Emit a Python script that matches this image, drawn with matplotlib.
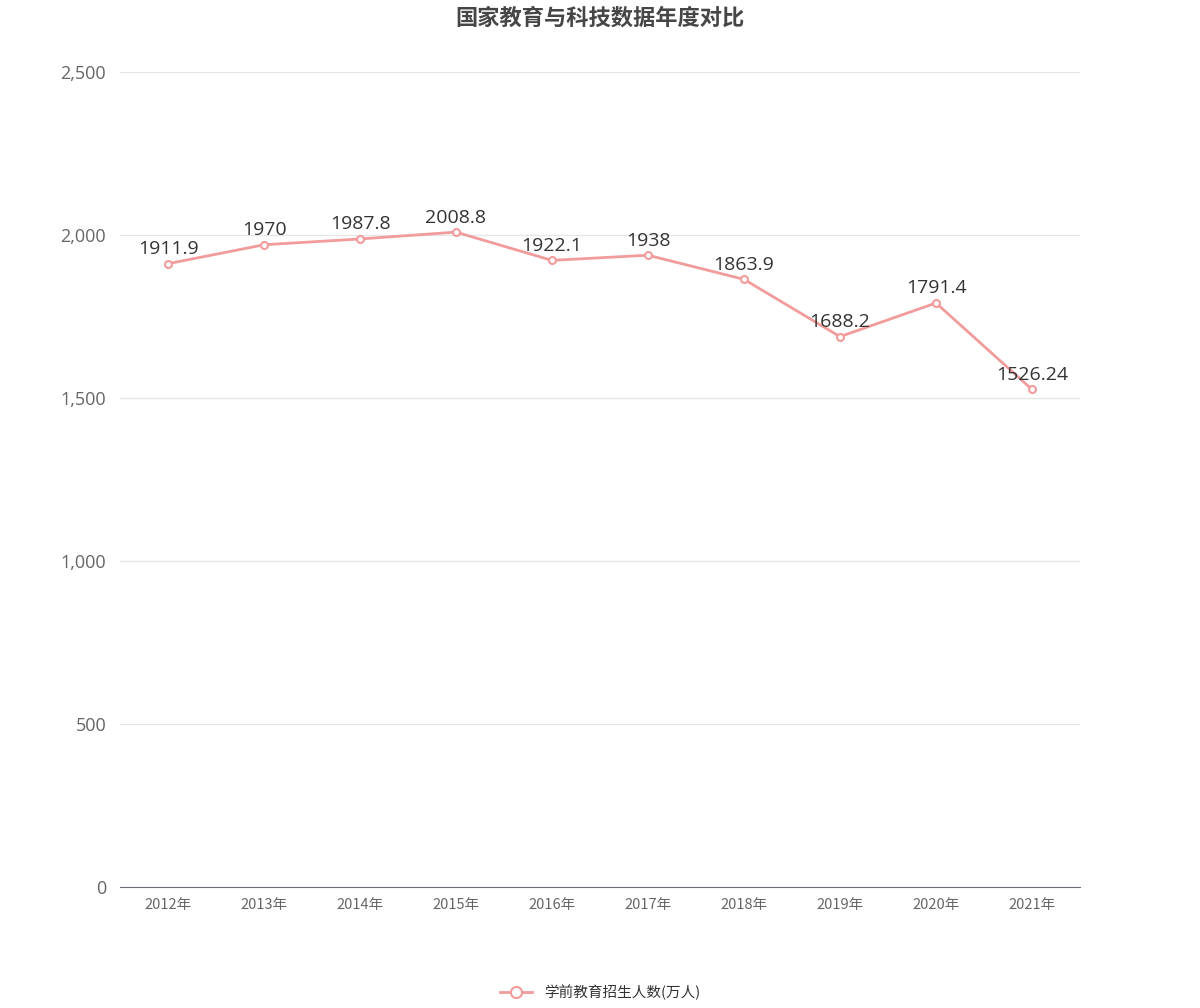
import matplotlib
matplotlib.use("Agg")
import matplotlib.pyplot as plt
from matplotlib.ticker import FuncFormatter

plt.rcParams["font.family"] = ["Noto Sans CJK SC", "DejaVu Sans"]

years = ["2012年", "2013年", "2014年", "2015年", "2016年",
         "2017年", "2018年", "2019年", "2020年", "2021年"]
enrolment = [1911.9, 1970, 1987.8, 2008.8, 1922.1, 1938, 1863.9, 1688.2, 1791.4, 1526.24]
value_labels = ["1911.9", "1970", "1987.8", "2008.8", "1922.1",
                "1938", "1863.9", "1688.2", "1791.4", "1526.24"]
series_name = "学前教育招生人数(万人)"
title = "国家教育与科技数据年度对比"

line_color = "#f29b9b"

fig = plt.figure(figsize=(12, 10.08), dpi=100)
ax = fig.add_axes([0.1, 0.12, 0.8, 0.8086])

x = list(range(len(years)))
ax.plot(x, enrolment, color=line_color, linewidth=2, marker="o", markersize=5,
        markerfacecolor="white", markeredgecolor=line_color, markeredgewidth=1.5,
        label=series_name, zorder=3)

for xi, yi, lab in zip(x, enrolment, value_labels):
    ax.annotate(lab, (xi, yi), xytext=(0, 4), textcoords="offset points",
                ha="center", va="bottom", fontsize=14, color="#333333",
                family="Open Sans")

ax.set_xlim(-0.5, len(years) - 0.5)
ax.set_ylim(0, 2500)
ax.set_yticks([0, 500, 1000, 1500, 2000, 2500])
ax.yaxis.set_major_formatter(FuncFormatter(lambda v, p: f"{int(v):,}"))
ax.set_xticks(x)
ax.set_xticklabels(years)

ax.grid(axis="y", color="#e6e6e6", linewidth=1)
ax.set_axisbelow(True)
for side in ["top", "right", "left"]:
    ax.spines[side].set_visible(False)
ax.spines["bottom"].set_color("#6e7079")
ax.tick_params(axis="y", length=0, labelsize=13, labelcolor="#666666", pad=10)
ax.tick_params(axis="x", length=0, labelsize=10.5, labelcolor="#666666", pad=8)
for t in ax.get_yticklabels():
    t.set_family("Open Sans")

fig.text(0.5, 0.993, title, ha="center", va="top", fontsize=16,
         fontweight="bold", color="#464646")

fig.legend(loc="lower center", bbox_to_anchor=(0.5, -0.005), frameon=False,
           fontsize=10.5, labelcolor="#333333", handlelength=2.2,
           markerscale=1.6)

fig.savefig("out.png", dpi=100)
